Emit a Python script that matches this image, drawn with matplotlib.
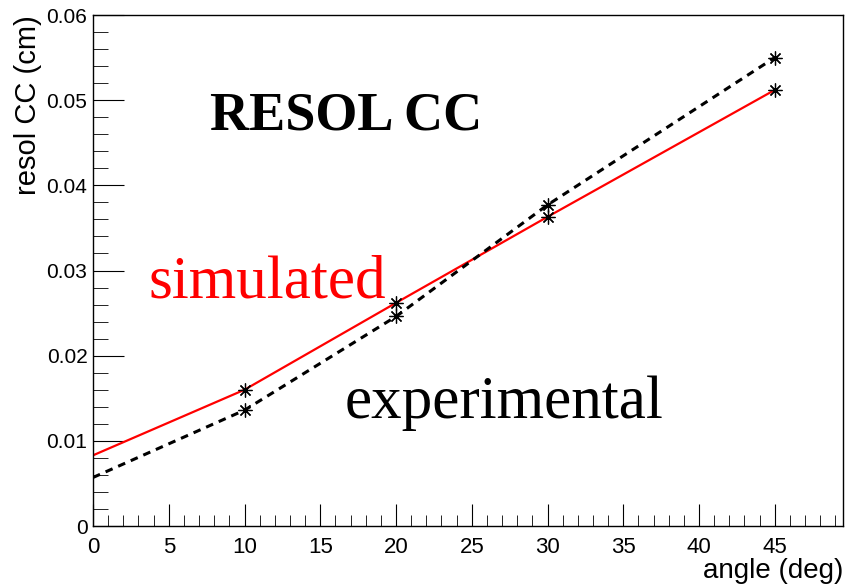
import matplotlib
matplotlib.use("Agg")
import matplotlib.pyplot as plt
from matplotlib.ticker import MultipleLocator

## angle scan of the CC resolution
angle = [0, 10, 20, 30, 45]
resol_sim = [0.0083, 0.0160, 0.0262, 0.0363, 0.0512]
resol_exp = [0.0057, 0.0136, 0.0246, 0.0377, 0.0550]

fig = plt.figure(figsize=(8.48, 5.84), dpi=100)
ax = fig.add_axes([0.1097, 0.0993, 0.8843, 0.875])

ax.plot(angle, resol_sim, color="red", lw=1.6)
ax.plot(angle[1:], resol_sim[1:], ls="none", marker=(8, 2, 0), ms=10, mec="black", mew=0.9)
ax.plot(angle, resol_exp, color="black", lw=2.2, ls=(0, (2.5, 2)))
ax.plot(angle[1:], resol_exp[1:], ls="none", marker=(8, 2, 0), ms=10, mec="black", mew=0.9)

ax.set_xlim(0, 49.5)
ax.set_ylim(0, 0.06)
ax.xaxis.set_major_locator(MultipleLocator(5))
ax.xaxis.set_minor_locator(MultipleLocator(1))
ax.yaxis.set_major_locator(MultipleLocator(0.01))
ax.yaxis.set_minor_locator(MultipleLocator(0.002))
ax.set_yticks([0, 0.01, 0.02, 0.03, 0.04, 0.05, 0.06])
ax.set_yticklabels(["0", "0.01", "0.02", "0.03", "0.04", "0.05", "0.06"])
ax.tick_params(axis="both", which="both", direction="in", top=False, right=False,
               color="black")
ax.tick_params(axis="y", which="major", length=22, pad=4, labelsize=15)
ax.tick_params(axis="y", which="minor", length=11)
ax.tick_params(axis="x", which="major", length=16, pad=8, labelsize=16)
ax.tick_params(axis="x", which="minor", length=8)
for lab in ax.get_xticklabels() + ax.get_yticklabels():
    lab.set_family("Liberation Sans")
for sp in ax.spines.values():
    sp.set_linewidth(1.0)

fig.text(0.033, 0.974, "resol CC (cm)", rotation=90, ha="center", va="top",
         fontsize=21, family="Liberation Sans")
fig.text(0.994, 0.045, "angle (deg)", ha="right", va="top",
         fontsize=20, family="Liberation Sans")

ax.text(16.7, 0.0465, "RESOL CC", ha="center", va="baseline", fontsize=39,
        fontweight="bold", family="Liberation Serif")
ax.text(3.63, 0.0268, "simulated", ha="left", va="baseline", fontsize=44,
        color="red", family="Liberation Serif")
ax.text(16.6, 0.0127, "experimental", ha="left", va="baseline", fontsize=44,
        color="black", family="Liberation Serif")

fig.savefig("out.png", dpi=100)
